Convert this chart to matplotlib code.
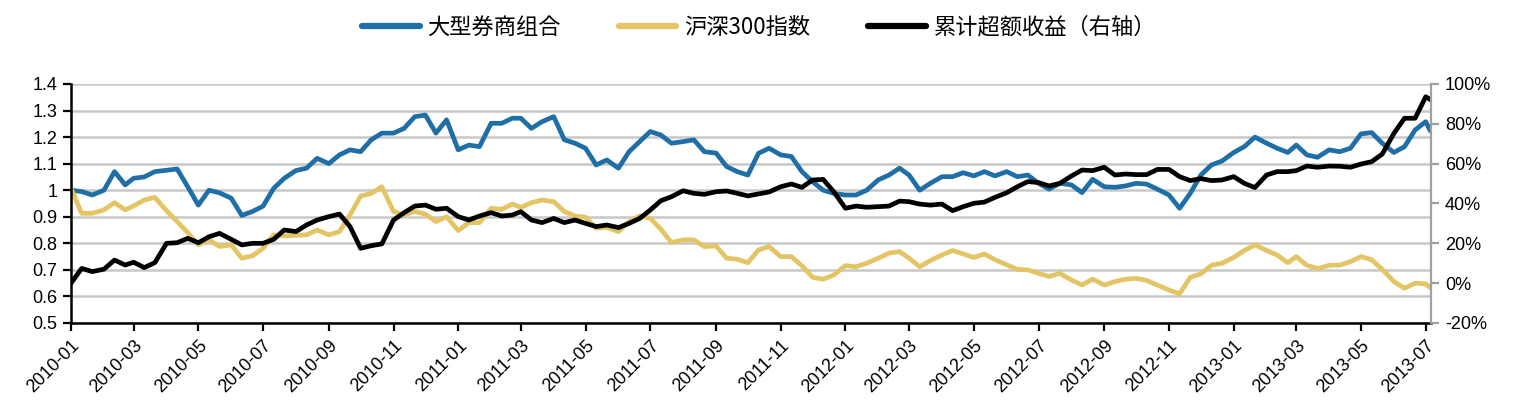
import matplotlib
matplotlib.use("Agg")
import matplotlib.pyplot as plt
from matplotlib.ticker import FuncFormatter
import pandas as pd

plt.rcParams['font.family'] = ['Liberation Sans', 'Noto Sans CJK JP', 'DejaVu Sans']
plt.rcParams['axes.unicode_minus'] = False

# 采样日期：每月1日、11日、21日
dates = [f"{y}-{m:02d}-{d:02d}" for y in range(2010, 2014) for m in range(1, 13)
         for d in (1, 11, 21) if (y, m) < (2013, 7)] + ["2013-07-01", "2013-07-05"]

# 大型券商组合（左轴）
broker = [
    1.0, 0.995, 0.982, 1.0, 1.07, 1.02, 1.045, 1.05, 1.07, 1.075, 1.08, 1.013,
    0.944, 1.0, 0.99, 0.97, 0.905, 0.92, 0.94, 1.007, 1.045, 1.074, 1.083, 1.12,
    1.10, 1.133, 1.152, 1.145, 1.19, 1.215, 1.215, 1.233, 1.277, 1.283, 1.215, 1.265,
    1.152, 1.17, 1.164, 1.252, 1.252, 1.271, 1.271, 1.233, 1.258, 1.277, 1.19, 1.177,
    1.158, 1.095, 1.114, 1.083, 1.145, 1.183, 1.221, 1.208, 1.177, 1.183, 1.19, 1.145,
    1.14, 1.089, 1.07, 1.057, 1.139, 1.158, 1.133, 1.127, 1.07, 1.032, 1.0, 0.988,
    0.982, 0.982, 1.0, 1.039, 1.057, 1.083, 1.057, 1.0, 1.026, 1.051, 1.051, 1.066,
    1.054, 1.07, 1.054, 1.07, 1.051, 1.057, 1.026, 1.004, 1.026, 1.02, 0.991, 1.041,
    1.013, 1.011, 1.016, 1.026, 1.023, 1.004, 0.982, 0.932, 0.988, 1.057, 1.095, 1.11,
    1.142, 1.164, 1.2, 1.177, 1.158, 1.142, 1.17, 1.133, 1.124, 1.152, 1.145, 1.158,
    1.212, 1.217, 1.177, 1.142, 1.164, 1.227, 1.258, 1.227,
]

# 沪深300指数（左轴）
hs300 = [
    1.007, 0.913, 0.913, 0.926, 0.953, 0.926, 0.941, 0.963, 0.973, 0.923, 0.882, 0.84,
    0.794, 0.813, 0.788, 0.794, 0.744, 0.753, 0.781, 0.832, 0.828, 0.83, 0.832, 0.85,
    0.832, 0.844, 0.907, 0.978, 0.988, 1.013, 0.92, 0.907, 0.92, 0.91, 0.882, 0.9,
    0.848, 0.878, 0.878, 0.932, 0.928, 0.948, 0.935, 0.953, 0.963, 0.957, 0.92, 0.903,
    0.898, 0.857, 0.86, 0.844, 0.882, 0.903, 0.894, 0.853, 0.803, 0.813, 0.813, 0.788,
    0.79, 0.744, 0.74, 0.727, 0.775, 0.788, 0.75, 0.75, 0.715, 0.672, 0.665, 0.681,
    0.716, 0.712, 0.725, 0.744, 0.763, 0.769, 0.744, 0.712, 0.735, 0.756, 0.773, 0.76,
    0.747, 0.76, 0.738, 0.719, 0.702, 0.7, 0.687, 0.675, 0.687, 0.662, 0.643, 0.665,
    0.643, 0.656, 0.665, 0.668, 0.66, 0.643, 0.624, 0.61, 0.672, 0.685, 0.717, 0.725,
    0.747, 0.773, 0.794, 0.773, 0.756, 0.727, 0.75, 0.717, 0.705, 0.717, 0.718, 0.731,
    0.75, 0.738, 0.702, 0.656, 0.631, 0.65, 0.647, 0.634,
]

# 累计超额收益（右轴，%）
excess = [
    0, 7.4, 5.8, 7, 11.6, 9.1, 10.5, 7.8, 10.3, 20, 20.3, 22.5,
    20.3, 23.3, 25, 22, 19.2, 20, 20, 22, 26.7, 25.9, 29.2, 31.7,
    33.4, 34.7, 28.4, 17.5, 18.8, 19.7, 31.7, 35.4, 38.7, 39.2, 37.1, 37.6,
    33.4, 31.7, 33.7, 35.4, 33.7, 34.2, 35.9, 31.7, 30.4, 32.5, 30.4, 31.7,
    30, 28.4, 29.2, 27.9, 30, 32.5, 36.7, 41.4, 43.4, 46.4, 45.1, 44.6,
    45.9, 46.3, 45.1, 43.8, 44.8, 45.8, 48.4, 49.8, 48.1, 51.8, 52.1, 45.9,
    37.6, 38.7, 38.1, 38.4, 38.7, 41.2, 40.9, 39.7, 39.2, 39.7, 36.4, 38.4,
    40.1, 40.7, 43.1, 45.4, 48.4, 51, 50.5, 48.8, 50.1, 53.8, 56.8, 56.5,
    58.2, 54.3, 54.8, 54.5, 54.5, 57.1, 57.1, 53.5, 51.5, 52.5, 51.5, 51.8,
    53.5, 50.1, 48.0, 54.3, 56, 56, 56.5, 58.8, 58.2, 58.8, 58.7, 58.2,
    59.8, 61, 64.8, 75.2, 82.8, 82.8, 93.6, 92.3,
]

labels = ['大型券商组合', '沪深300指数', '累计超额收益（右轴）']
left_ticks = [0.5, 0.6, 0.7, 0.8, 0.9, 1.0, 1.1, 1.2, 1.3, 1.4]
right_ticks = [-20, 0, 20, 40, 60, 80, 100]

x = pd.to_datetime(dates)

fig = plt.figure(figsize=(15.18, 4.2), dpi=100)
ax = fig.add_axes([0.0468, 0.231, 0.8959, 0.569])

l1, = ax.plot(x, broker, color='#1F6EA6', lw=3.4, solid_joinstyle='round')
l2, = ax.plot(x, hs300, color='#E3C565', lw=3.4, solid_joinstyle='round')
ax2 = ax.twinx()
l3, = ax2.plot(x, excess, color='black', lw=3.4, solid_joinstyle='round')

ax.set_xlim(pd.Timestamp('2010-01-01'), pd.Timestamp('2013-07-06'))
xt = pd.date_range('2010-01-01', '2013-07-01', freq='2MS')
ax.set_xticks(xt)
ax.set_xticklabels([d.strftime('%Y-%m') for d in xt], rotation=45,
                   ha='right', rotation_mode='anchor')

ax.set_ylim(0.5, 1.4)
ax.set_yticks(left_ticks)
ax.yaxis.set_major_formatter(FuncFormatter(lambda v, p: f'{v:g}'))
ax2.set_ylim(-20, 100)
ax2.set_yticks(right_ticks)
ax2.yaxis.set_major_formatter(FuncFormatter(lambda v, p: f'{v:.0f}%'))

ax.yaxis.grid(True, color='#C8C8C8', lw=1.8)
ax.set_axisbelow(True)

for a in (ax, ax2):
    a.spines['top'].set_visible(False)
ax.spines['right'].set_visible(False)
ax2.spines['left'].set_visible(False)
ax2.spines['bottom'].set_visible(False)
ax.spines['left'].set_linewidth(1.8)
ax.spines['bottom'].set_linewidth(1.8)
ax2.spines['right'].set_color('#A0A0A0')
ax2.spines['right'].set_linewidth(1.6)

ax.tick_params(axis='both', direction='out', length=6, width=1.6, labelsize=13, pad=4)
ax2.tick_params(axis='y', direction='out', length=6, width=1.6, color='#A0A0A0',
                labelsize=13, pad=4)

leg = fig.legend([l1, l2, l3], labels, loc='center', bbox_to_anchor=(0.5, 0.935),
                 ncol=3, frameon=False, handlelength=2.6, handletextpad=0.35,
                 columnspacing=2.6,
                 prop={'family': ['Noto Sans CJK JP', 'DejaVu Sans'], 'size': 16})
for ln in leg.get_lines():
    ln.set_linewidth(4.5)
    ln.set_solid_capstyle('round')

fig.savefig('out.png', dpi=100)
